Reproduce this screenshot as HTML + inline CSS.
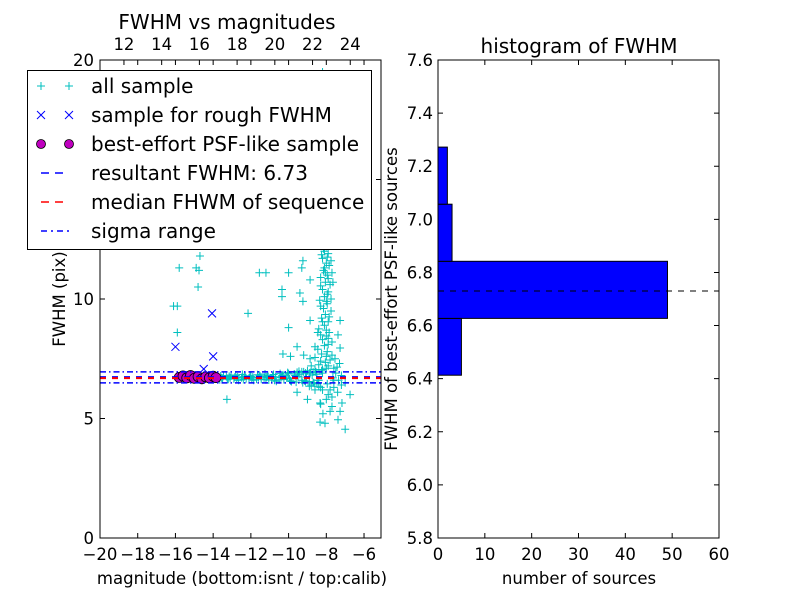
<!DOCTYPE html>
<html><head><meta charset="utf-8"><style>
body{margin:0;background:#fff;}
svg{display:block;font-family:"DejaVu Sans","Liberation Sans",sans-serif;}
</style></head><body>
<svg id="chart" width="800" height="600" viewBox="0 0 800 600"></svg>
<script>
// ---------- data ----------
const allMag = [-13.7,-13.5,-13.3,-13.1,-12.9,-12.7,-12.5,-12.3,-12.1,-11.9,-11.7,-11.5,-11.3,-11.1,-10.9,-10.7,-10.5,-10.3,-10.1,-9.9,-9.7,-9.5,-9.3,-9.1,-8.9,-8.7,-8.5,-13.6,-13.2,-12.8,-12.4,-12.0,-11.6,-11.2,-10.8,-10.4,-10.0,-9.6,-9.2,-8.8,-8.6,-8.3,-8.0,-7.8,-7.5,-7.2,-7.0,
 -13.27,-8.18,-7.8,-7.27,-8.33,-8.07,-7.38,-7.0,-6.74,-7.17,-7.7,-8.33,-9.0,-9.55,
 -15.8,-14.7,-14.9,-14.75,-14.8,-16.1,-15.9,-15.9,-12.15,-11.55,-11.2,-10.0,-10.35,-10.35,-10.0,
 -10.3,-9.9,-9.55,-9.2,-8.86,-9.4,-9.24,-8.86,-9.24,-9.3,-8.86,-7.27,-7.38,-7.27,-7.54,-7.43,-7.65,-7.7,
 -8.1,-7.9,-8.2,-8.0,-7.85,-8.15,-7.95,-8.3,-8.05,-7.8,-8.2,-7.9,-8.1,-8.35,-7.95,-8.15,-7.75,-8.05,-8.25,-7.9,-8.1,-8.4,-7.85,-8.0,-8.2,-7.7,-8.1,-8.45,-7.95,-8.25,-8.6,-7.8,-8.05,-8.4,-8.8,-7.6,-8.2,-9.0,
 -8.0,-8.25,-7.75,-8.1,-7.9,-8.3,-7.95,-8.0,-8.3,-7.85,-8.0,-8.3,-7.9,-8.6,-8.0,-8.3,-7.9,-8.55,-8.15,-7.95,-8.05,-7.75,-8.2,-7.9,-8.45,-7.7,
 -8.2,-7.9,-8.4,-8.0,-7.6,-8.6,-7.4,-8.9,-7.2,-8.3,-7.7,
 -9.4,-9.1,-8.9,-8.7,-9.3,-8.5,-8.4,-8.2,-7.6,-7.3,
 -13.65,-13.45,-13.25,-13.05,-12.85,-12.65,-12.45,-12.25,-12.05,-11.85,-11.65,-11.45,-11.25,-11.05,-10.85,-10.65,-10.45,-10.25,-10.05,-9.85,-9.65,-9.45,-9.25,-9.05,-8.85,-8.65,
 -13.55,-13.15,-12.75,-12.35,-11.95,-11.55,-11.15,-10.75,-10.35,-9.95,-9.55,-9.15,-8.75,-8.45,-8.25,-7.95,-7.65,-7.35,
 -8.0,-8.1,-7.9,-8.2];
const allFwhm = [6.72,6.68,6.75,6.7,6.66,6.74,6.71,6.78,6.69,6.73,6.65,6.76,6.7,6.8,6.67,6.74,6.62,6.82,6.7,6.58,6.86,6.75,6.6,6.9,6.55,6.95,6.45,6.78,6.64,6.8,6.63,6.77,6.71,6.62,6.84,6.71,6.88,6.52,6.95,6.4,7.05,6.3,7.1,6.2,6.9,6.8,6.5,
 5.8,5.2,5.3,5.3,4.85,4.8,4.95,4.55,6.0,5.65,5.5,5.65,5.8,6.1,
 11.3,11.8,11.3,11.2,10.5,9.7,9.7,8.6,9.4,11.1,11.1,11.1,10.4,10.1,8.8,
 7.7,7.6,8.0,7.65,7.5,10.25,9.9,9.1,11.6,11.3,10.8,9.1,8.5,7.95,7.5,7.15,10.7,11.1,
 12.0,11.9,11.7,11.5,11.4,11.2,11.0,10.9,10.7,10.6,10.4,10.3,10.1,9.95,9.8,9.6,9.5,9.35,9.2,9.05,8.9,8.75,8.6,8.45,8.3,8.2,8.05,7.9,7.8,7.7,7.55,7.45,7.35,7.25,7.2,7.1,7.05,7.0,
 12.2,11.85,11.6,11.3,10.85,10.55,10.2,9.9,9.7,9.25,8.7,8.5,8.1,8.0,7.6,7.4,7.2,6.95,12.1,11.75,11.1,10.0,9.05,8.35,8.6,7.65,
 6.2,6.0,6.35,5.8,6.3,6.2,6.1,6.35,6.4,5.6,5.9,
 6.85,6.55,6.9,6.5,6.95,6.85,6.6,6.9,6.6,7.3,
 6.62,6.8,6.66,6.82,6.73,6.6,6.84,6.67,6.79,6.6,6.83,6.64,6.86,6.61,6.77,6.56,6.88,6.63,6.92,6.55,6.8,6.97,6.5,6.73,6.92,6.48,
 6.7,6.76,6.69,6.75,6.64,6.81,6.74,6.6,6.79,6.66,6.93,6.58,6.82,6.6,7.0,6.45,6.7,6.6,
 14,16,18,19.5];
const roughMag = [-16.0,-14.06,-14.0,-14.5];
const roughFwhm = [8.0,9.4,7.6,7.07];
const bestMag = [-15.8,-15.6,-15.4,-15.2,-15.0,-14.8,-14.6,-14.4,-14.2,-14.0,-13.85];
const bestFwhm = [6.72,6.78,6.7,6.8,6.68,6.75,6.66,6.74,6.7,6.77,6.71];
const resultFwhm = 6.73, medianFwhm = 6.69, sigmaLo = 6.49, sigmaHi = 6.95;
const binEdges = [6.413,6.627,6.842,7.057,7.272,7.487];
const binCounts = [5,49,3,2,0];
const xTicks = [-20,-18,-16,-14,-12,-10,-8,-6];
const yTicks = [0,5,10,15,20];
const topTicks = [12,14,16,18,20,22,24];
const hxTicks = [0,10,20,30,40,50,60];
const hyTicks = [5.8,6.0,6.2,6.4,6.6,6.8,7.0,7.2,7.4,7.6];
const legendLabels = ["all sample","sample for rough FWHM","best-effort PSF-like sample","resultant FWHM: 6.73","median FHWM of sequence","sigma range"];

// ---------- helpers ----------
const svg = document.getElementById('chart');
const NS = 'http://www.w3.org/2000/svg';
function mk(tag, attrs, parent){const e=document.createElementNS(NS,tag);for(const k in attrs)e.setAttribute(k,attrs[k]);(parent||svg).appendChild(e);return e;}
const L={x0:100,x1:381,y0:538,y1:60};
const sx=v=>L.x0+(v+20)/(14.9)*(L.x1-L.x0);
const sy=v=>L.y0-v/20*(L.y0-L.y1);
const calibOffset=30.73;
const R={x0:438,x1:719,y0:538,y1:60};
const hx=v=>R.x0+v/60*(R.x1-R.x0);
const hy=v=>R.y0-(v-5.8)/1.8*(R.y0-R.y1);
const TF=16.5, TITLEF=20, LEGF=20;

mk('defs',{}).innerHTML='<clipPath id="clipL"><rect x="100" y="60" width="281" height="478"/></clipPath><clipPath id="clipR"><rect x="438" y="60" width="281" height="478"/></clipPath>';

// ---------- left plot ----------
const gL=mk('g',{'clip-path':'url(#clipL)'});


const gAll=mk('g',{stroke:'#00bfbf','stroke-width':1},gL);


for(let i=0;i<allMag.length;i++){
  const x=sx(allMag[i]),y=sy(allFwhm[i]);
  const p=mk('path',{d:`M${x-4},${y}H${x+4}M${x},${y-4}V${y+4}`},gAll);
  
  
}
const gBest=mk('g',{fill:'#bf00bf',stroke:'#000','stroke-width':0.8},gL);


for(let i=0;i<bestMag.length;i++){
  const c=mk('circle',{cx:sx(bestMag[i]),cy:sy(bestFwhm[i]),r:5},gBest);
  
  
}
const gRough=mk('g',{stroke:'#0000ff','stroke-width':1},gL);


for(let i=0;i<roughMag.length;i++){
  const x=sx(roughMag[i]),y=sy(roughFwhm[i]);
  const p=mk('path',{d:`M${x-4},${y-4}L${x+4},${y+4}M${x-4},${y+4}L${x+4},${y-4}`},gRough);
  
  
}
let ln=mk('line',{x1:100,x2:381,y1:sy(resultFwhm),y2:sy(resultFwhm),stroke:'#0000ff','stroke-width':2,'stroke-dasharray':'6,6'},gL);

ln=mk('line',{x1:100,x2:381,y1:sy(medianFwhm),y2:sy(medianFwhm),stroke:'#ff0000','stroke-width':2,'stroke-dasharray':'6,6'},gL);

for(const v of [sigmaLo,sigmaHi]){
  ln=mk('line',{x1:100,x2:381,y1:sy(v),y2:sy(v),stroke:'#0000ff','stroke-width':1.5,'stroke-dasharray':'6,3,1.5,3'},gL);
  
}
let fr=mk('rect',{x:100,y:60,width:281,height:478,fill:'none',stroke:'#000','stroke-width':1});

const tickG=mk('g',{stroke:'#000','stroke-width':1});
const txt=(x,y,s,anchor,size,name)=>{const t=mk('text',{x:x,y:y,'text-anchor':anchor||'middle','font-size':size||TF,fill:'#000'});t.textContent=s;return t;};
for(const v of xTicks){const x=sx(v);mk('path',{d:`M${x},538v-5M${x},60v5`},tickG);txt(x,560,(v<0?'\u2212':'')+Math.abs(v),'middle',TF,'x-tick-label');}
for(const v of yTicks){const y=sy(v);mk('path',{d:`M100,${y}h5M381,${y}h-5`},tickG);txt(94,y+6,String(v),'end',TF,'y-tick-label');}
for(const v of topTicks){const x=sx(v-calibOffset);mk('path',{d:`M${x},60v5`},tickG);txt(x,50,String(v),'middle',TF,'top-tick-label');}
txt(227,29,'FWHM vs magnitudes','middle',TITLEF,'scatter-title');
txt(242,584,'magnitude (bottom:isnt / top:calib)','middle',TF,'x-axis-title');
let yt=txt(0,0,'FWHM (pix)','middle',TF,'y-axis-title');yt.setAttribute('transform','translate(65,299) rotate(-90)');

// ---------- right plot ----------
const gR=mk('g',{'clip-path':'url(#clipR)'});


for(let i=0;i<binCounts.length;i++){
  const yTop=hy(binEdges[i+1]),yBot=hy(binEdges[i]);
  const b=mk('rect',{x:hx(0),y:yTop,width:hx(binCounts[i])-hx(0),height:yBot-yTop,fill:'#0000ff',stroke:'#000','stroke-width':1},gR);
  
  
}
ln=mk('line',{x1:438,x2:719,y1:hy(resultFwhm),y2:hy(resultFwhm),stroke:'#000','stroke-width':1,'stroke-dasharray':'6,6'},gR);

fr=mk('rect',{x:438,y:60,width:281,height:478,fill:'none',stroke:'#000','stroke-width':1});

for(const v of hxTicks){const x=hx(v);mk('path',{d:`M${x},538v-5M${x},60v5`},tickG);txt(x,560,String(v),'middle',TF,'hist-x-tick-label');}
for(const v of hyTicks){const y=hy(v);mk('path',{d:`M438,${y}h5M719,${y}h-5`},tickG);txt(433,y+6,v.toFixed(1),'end',TF,'hist-y-tick-label');}
txt(579,53,'histogram of FWHM','middle',TITLEF,'histogram-title');
txt(579,584,'number of sources','middle',TF,'hist-x-axis-title');
yt=txt(0,0,'FWHM of best-effort PSF-like sources','middle',TF,'hist-y-axis-title');yt.setAttribute('transform','translate(397,299) rotate(-90)');

// ---------- legend ----------
const gLeg=mk('g',{});


mk('rect',{x:27.5,y:70.5,width:344,height:179,fill:'#fff',stroke:'#000','stroke-width':1},gLeg);
const rows=[86,115,144,173,202,231];
for(let i=0;i<6;i++){
  const y=rows[i];
  const g=mk('g',{},gLeg);
  
  
  if(i===0){for(const x of [41,69])mk('path',{d:`M${x-4},${y}H${x+4}M${x},${y-4}V${y+4}`,stroke:'#00bfbf'},g);}
  if(i===1){for(const x of [41,69])mk('path',{d:`M${x-4},${y-4}L${x+4},${y+4}M${x-4},${y+4}L${x+4},${y-4}`,stroke:'#0000ff'},g);}
  if(i===2){for(const x of [41,69])mk('circle',{cx:x,cy:y,r:4.5,fill:'#bf00bf',stroke:'#000','stroke-width':0.8},g);}
  if(i===3)mk('line',{x1:41,x2:69,y1:y,y2:y,stroke:'#0000ff','stroke-width':1.5,'stroke-dasharray':'8,6'},g);
  if(i===4)mk('line',{x1:41,x2:69,y1:y,y2:y,stroke:'#ff0000','stroke-width':1.5,'stroke-dasharray':'8,6'},g);
  if(i===5)mk('line',{x1:41,x2:69,y1:y,y2:y,stroke:'#0000ff','stroke-width':1.5,'stroke-dasharray':'6,4,2,4'},g);
  const t=mk('text',{x:91,y:y+7,'font-size':LEGF,fill:'#000'},g);
  t.textContent=legendLabels[i];
  
  
}
</script>
</body></html>
